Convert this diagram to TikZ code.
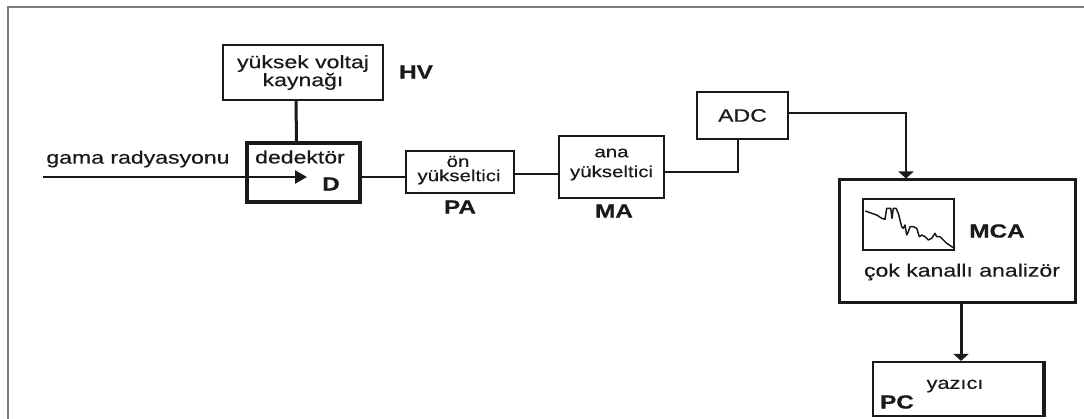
\documentclass[tikz,border=0pt]{standalone}
\usepackage{fontspec}
\setmainfont{Liberation Sans}[FakeStretch=1.28, FakeBold=0.5]
\usetikzlibrary{arrows.meta}
\definecolor{ink}{HTML}{1A1A1A}
\definecolor{framegray}{HTML}{7A7A7A}
\tikzset{
  blk/.style={draw=ink, line width=2.4pt, inner sep=0pt, fill=white},
  txt/.style={font=\fontsize{18}{18}\selectfont, text=ink, inner sep=0pt, align=center},
  amp/.style={font=\fontsize{16}{16}\selectfont, text=ink, inner sep=0pt, align=center},
  lbl/.style={font=\fontsize{19}{19}\selectfont\bfseries, text=ink, inner sep=0pt},
  wire/.style={draw=ink, line width=2.4pt},
  downarrow/.style={wire, -{Triangle[width=15pt,length=7pt]}},
}
\begin{document}
\begin{tikzpicture}[x=1pt,y=-1pt]
\useasboundingbox (0,0) rectangle (1084,419);
% frame
\draw[framegray, line width=2pt] (8,420) -- (8,7) -- (1085,7);

% boxes
\node[blk, minimum width=160pt, minimum height=55pt, txt, font=\fontsize{18}{18}\selectfont] (hv) at (303,72.5) {yüksek voltaj\\kaynağı};
\node[blk, line width=4pt, minimum width=113pt, minimum height=59pt] (det) at (303.5,172.5) {};
\node[blk, minimum width=108pt, minimum height=42pt] (pa) at (460,172) {};
\node[blk, minimum width=105pt, minimum height=62pt] (ma) at (611.5,167) {};
\node[blk, minimum width=91pt, minimum height=47pt, txt] (adc) at (742.5,115.5) {ADC};
\node[blk, line width=3pt, minimum width=236pt, minimum height=123pt] (mca) at (957,241.5) {};
\node[blk, line width=2pt, minimum width=91pt, minimum height=51pt] (plot) at (908.5,224.5) {};
\node[blk, line width=2.2pt, minimum width=170pt, minimum height=54pt] (pc) at (958,389) {};
\draw[ink, line width=3.2pt] (pc.north east) -- (pc.south east);

% texts
\node[lbl] (hvl) at (416,72) {HV};
\node[txt] (gam) at (138,159) {gama radyasyonu};
\node[txt] (detl) at (300,157) {dedektör};
\node[lbl] (dl) at (331,184) {D};
\node[amp] (pat1) at (458,161.5) {ön};
\node[amp] (pat2) at (459,177) {yükseltici};
\node[lbl] (pal) at (460,207) {PA};
\node[amp] (mat1) at (611.5,153) {ana};
\node[amp] (mat2) at (611.5,173) {yükseltici};
\node[lbl] (mal) at (614,211) {MA};
\node[lbl] (mcal) at (997,231) {MCA};
\node[txt] (mcat) at (962,272) {çok kanallı analizör};
\node[lbl] (pcl) at (897,402) {PC};
\node[txt, font=\fontsize{17}{17}\selectfont] (pct) at (955,386) {yazıcı};

% spectrum
\draw[ink, line width=1.5pt, line join=round]
 (865.3,211) -- (871.7,213.3) -- (876.7,215) -- (881.7,218.3) -- (885,219.3)
 -- (886.7,208.3) -- (890.7,208.3) -- (892,218.3) -- (893.3,208.3) -- (896,208.3)
 -- (898.3,213.3) -- (900,220) -- (901.7,226.7) -- (903.3,228.3) -- (905,225)
 -- (906.7,235) -- (908.3,231.7) -- (910,226.7) -- (913.3,226.7) -- (916.7,228.3)
 -- (919.3,236.7) -- (921.7,235) -- (925,236.7) -- (928.3,240) -- (931.7,238.3)
 -- (935,233.3) -- (936.7,236.7) -- (940,236.7) -- (943.3,240) -- (946.7,243.3)
 -- (949.3,245) -- (951.7,246.7) -- (953.3,247.5);

% connectors
\coordinate (gstart) at (43,177);
\coordinate (gtip) at (307,177);
\draw[wire, -{Triangle[width=13pt,length=12pt]}] (gstart) -- (gtip);
\draw[wire, line width=3pt] ([xshift=-7pt]hv.south) -- ([xshift=-7pt]det.north);
\draw[wire] (det.east |- gtip) -- (pa.west |- gtip);
\draw[wire, line width=1.8pt] ([yshift=-2pt]pa.east) -- ([yshift=-2pt]pa.east -| ma.west);
\draw[wire] ([yshift=-5pt]ma.east) -| ([xshift=-4.5pt]adc.south);
\draw[downarrow] ([yshift=2.5pt]adc.east) -| ([xshift=-51pt]mca.north);
\draw[downarrow, line width=3pt] ([xshift=4pt]mca.south) -- ([xshift=4pt]mca.south |- pc.north);
\end{tikzpicture}
\end{document}
